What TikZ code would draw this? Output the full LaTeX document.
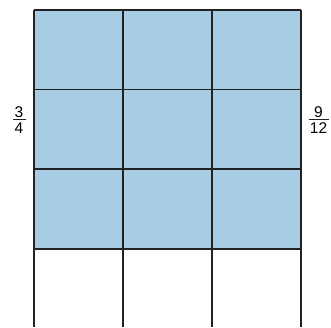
\documentclass[tikz,border=0pt]{standalone}
\usepackage{fontspec}
\setmainfont{Liberation Sans}
\usepackage{tikz}
\usetikzlibrary{positioning,calc}
\definecolor{cellblue}{RGB}{168,204,228}
\definecolor{gridline}{RGB}{34,34,34}

\begin{document}
\begin{tikzpicture}[x=1pt,y=-1pt,
  gridln/.style={line width=1.6pt,draw=gridline},
  digit/.style={inner sep=0pt,anchor=base,font=\fontsize{15.5}{17}\selectfont},
  fracbar/.style={line width=1.1pt,draw=gridline}]
\useasboundingbox (0,0) rectangle (331,327);
% shaded part: three rows of three
\fill[cellblue] (34,10) rectangle (301,249);
% grid lines, open at the bottom
\foreach \x in {34,123,212,301}{\draw[gridln] (\x,10) -- (\x,327);}
\foreach \y in {10,89.5,169,249}{\draw[gridln] (34,\y) -- (301,\y);}
% fraction on the left
\node[digit] (num34) at (19,117.5) {3};
\node[digit] (den34) at (19,133.5) {4};
\draw[fracbar] (13,119.5) -- (25.5,119.5);
% fraction on the right
\node[digit] (num912) at (318.5,117.5) {9};
\node[digit] (den912) at (318.5,133.5) {12};
\draw[fracbar] (309,119.5) -- (328.5,119.5);
\end{tikzpicture}
\end{document}
